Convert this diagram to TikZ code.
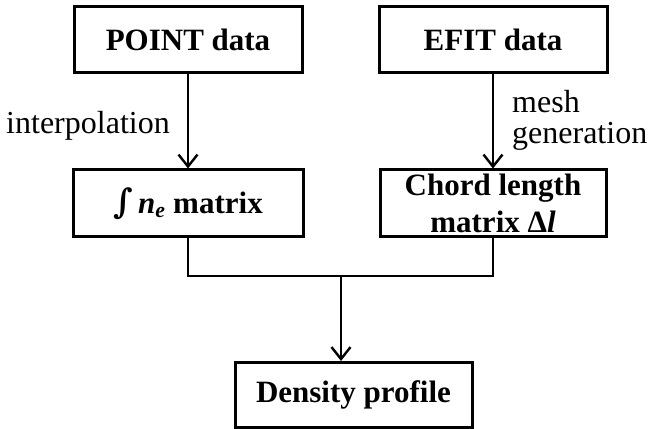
\documentclass[tikz,border=0pt]{standalone}
\usepackage{fontspec}
\setmainfont{Liberation Serif}
\newfontfamily\intfont{DejaVu Serif}
\usetikzlibrary{arrows.meta}
\begin{document}
\begin{tikzpicture}[x=1pt,y=1pt,
  box/.style={draw, line width=3pt, inner sep=0pt, minimum height=66pt,
    align=center, font=\fontsize{31}{37}\selectfont\bfseries},
  lbl/.style={font=\fontsize{32}{31}\selectfont, inner sep=0pt},
  link/.style={line width=2.4pt},
  flow/.style={link, -{Straight Barb[length=12pt, width=19pt, line width=2.4pt]}}]
\useasboundingbox (0,0) rectangle (649,429);
% data sources
\node[box, minimum width=228pt] (point) at (188,389) {POINT data};
\node[box, minimum width=228pt] (efit) at (493,389) {EFIT data};
% intermediate matrices
\node[box, minimum width=230pt, minimum height=67pt] (ne) at (188,225.5)
  {{\intfont\fontsize{34}{34}\selectfont ∫}\,\textit{n}\textsubscript{\textit{e}} matrix};
\node[box, minimum width=226pt, minimum height=67pt] (chord) at (493,225.5)
  {Chord length\\matrix Δ\textit{l}};
% result
\node[box, minimum width=237pt, minimum height=65pt] (dens) at (353.5,34) {Density profile};
\coordinate (join) at (341,153);
% connectors
\draw[flow] (point) -- (ne);
\draw[flow] (efit) -- (chord);
\draw[link] (ne.south) |- (join) -| (chord.south);
\draw[flow] (join) -- (join |- dens.north);
% step labels
\node[lbl] (interp) at (88,303) {interpolation};
\node[lbl, align=left, anchor=west] (mesh) at (512,309) {mesh\\generation};
\end{tikzpicture}
\end{document}
